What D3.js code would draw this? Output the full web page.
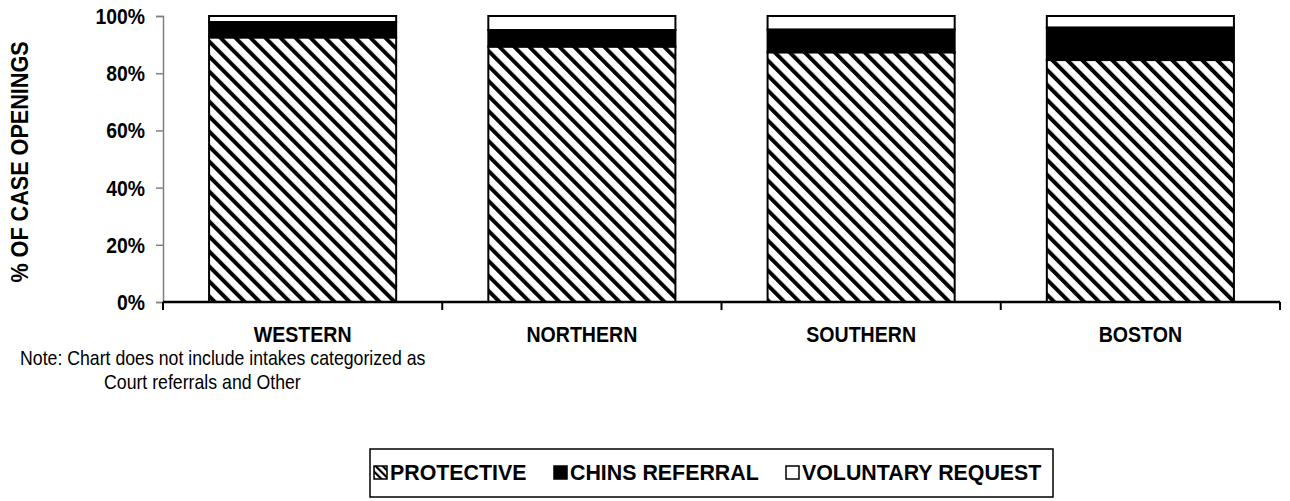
<!DOCTYPE html>
<html>
<head>
<meta charset="utf-8">
<script src="https://cdn.jsdelivr.net/npm/d3@7"></script>
<style>
  body { margin: 0; background: #fff; }
  text { font-family: "Liberation Sans", Arial, sans-serif; fill: #000; }
</style>
</head>
<body>
<script>
// regions and their share of case openings (percent)
var categories = ["WESTERN", "NORTHERN", "SOUTHERN", "BOSTON"];
var protective = [92.5, 89.3, 87.3, 84.6];
var chins = [5.4, 5.8, 8.0, 11.4];
var voluntary = [2.1, 4.9, 4.7, 4.0];
var yTicks = [0, 20, 40, 60, 80, 100];
var seriesNames = ["PROTECTIVE", "CHINS REFERRAL", "VOLUNTARY REQUEST"];

var W = 1290, H = 501;
var svg = d3.select("body").append("svg")
  .attr("width", W)
  .attr("height", H);

// the original uses a narrow bold face, so squeeze the text horizontally
function narrowText(parent, x, y, str, size, sx, anchor, weight) {
  return parent.append("text")
    .attr("transform", "translate(" + x + "," + y + ") scale(" + sx + ",1)")
    .attr("text-anchor", anchor || "start")
    .style("font-size", size + "px")
    .style("font-weight", weight || "bold")
    .text(str);
}

// hatch for the protective series
var defs = svg.append("defs");
defs.append("pattern")
  .attr("id", "hatch")
  .attr("patternUnits", "userSpaceOnUse")
  .attr("width", 10.6)
  .attr("height", 10.6)
  .attr("patternTransform", "rotate(-45)")
  .append("rect")
    .attr("width", 4).attr("height", 10.6)
    .attr("fill", "#000");
defs.append("pattern")
  .attr("id", "lhatch")
  .attr("patternUnits", "userSpaceOnUse")
  .attr("width", 5)
  .attr("height", 5)
  .attr("patternTransform", "rotate(-45)")
  .append("rect")
    .attr("width", 2.2).attr("height", 5)
    .attr("fill", "#000");
var fills = ["url(#hatch)", "#000", "#fff"];

var x = d3.scaleBand()
  .domain(categories)
  .range([163, 1280])
  .paddingInner(0.33)
  .paddingOuter(0.165);

var y = d3.scaleLinear()
  .domain([0, 100])
  .range([302, 16]);

// build stacked rows
var rows = categories.map(function (c, i) {
  return { cat: c, PROTECTIVE: protective[i], "CHINS REFERRAL": chins[i], "VOLUNTARY REQUEST": voluntary[i] };
});
var stacked = d3.stack().keys(seriesNames)(rows);

// y axis (grey), labels drawn separately
var yAxis = svg.append("g")
  .attr("transform", "translate(163,0)")
  .call(d3.axisLeft(y).tickValues(yTicks).tickSize(7).tickFormat(""));
yAxis.select(".domain").attr("stroke", "#808080").attr("stroke-width", 1.5);
yAxis.selectAll(".tick line").attr("stroke", "#808080").attr("stroke-width", 1.5);
yTicks.forEach(function (t) {
  narrowText(svg, 145, y(t) + 8, t + "%", 22, 0.88, "end");
});

// bars
var layers = svg.append("g").selectAll("g")
  .data(stacked)
  .enter().append("g")
    .attr("fill", function (d, i) { return fills[i]; });

layers.selectAll("rect")
  .data(function (d) { return d; })
  .enter().append("rect")
    .attr("x", function (d) { return x(d.data.cat); })
    .attr("y", function (d) { return y(d[1]); })
    .attr("width", x.bandwidth())
    .attr("height", function (d) { return y(d[0]) - y(d[1]); })
    .attr("stroke", "#000")
    .attr("stroke-width", 2);

// x axis (black) with ticks between categories
var xAxis = svg.append("g");
xAxis.append("line")
  .attr("x1", 163).attr("x2", 1280)
  .attr("y1", y(0)).attr("y2", y(0))
  .attr("stroke", "#000").attr("stroke-width", 2.5);
var bounds = categories.map(function (c) { return x(c) - x.step() * x.paddingInner() / 2; }).concat([1280]);
xAxis.selectAll(".xt")
  .data(bounds)
  .enter().append("line")
    .attr("x1", function (d) { return d; }).attr("x2", function (d) { return d; })
    .attr("y1", y(0)).attr("y2", y(0) + 8)
    .attr("stroke", "#000").attr("stroke-width", 2);
categories.forEach(function (c) {
  narrowText(xAxis, x(c) + x.bandwidth() / 2, 342, c, 22, 0.89, "middle");
});

// y axis title
svg.append("text")
  .attr("transform", "translate(28,162) rotate(-90) scale(0.9,1)")
  .attr("text-anchor", "middle")
  .style("font-size", "24px")
  .style("font-weight", "bold")
  .text("% OF CASE OPENINGS");

// note
narrowText(svg, 20, 365, "Note: Chart does not include intakes categorized as", 20, 0.886, "start", "normal");
narrowText(svg, 104, 389, "Court referrals and Other", 20, 0.886, "start", "normal");

// legend
var legend = svg.append("g");
legend.append("rect")
  .attr("x", 370).attr("y", 449)
  .attr("width", 683).attr("height", 48)
  .attr("fill", "#fff")
  .attr("stroke", "#000").attr("stroke-width", 1.5);
var legendX = [374, 554, 786];
var items = legend.selectAll(".li")
  .data(seriesNames)
  .enter().append("g")
    .attr("transform", function (d, i) { return "translate(" + legendX[i] + ",466)"; });
items.append("rect")
  .attr("width", 13).attr("height", 13)
  .attr("fill", function (d, i) { return i === 0 ? "url(#lhatch)" : fills[i]; })
  .attr("stroke", "#000").attr("stroke-width", 1.5);
items.each(function (d) {
  narrowText(d3.select(this), 16, 14, d, 23, 0.93);
});
</script>
</body>
</html>
